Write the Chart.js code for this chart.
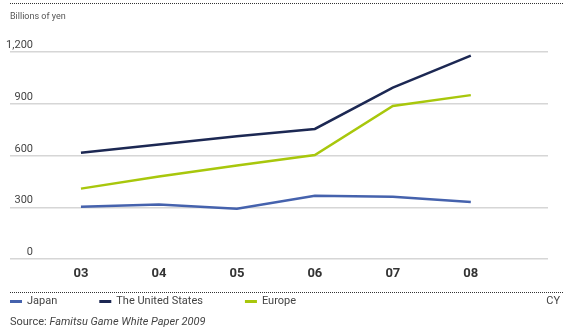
<!DOCTYPE html>
<html>
<head>
<meta charset="utf-8">
<script src="https://cdn.jsdelivr.net/npm/chart.js@4/dist/chart.umd.min.js"></script>
<style>
  html, body { margin: 0; padding: 0; background: #fff; }
  #wrap { width: 563px; height: 330px; }
</style>
</head>
<body>
<div id="wrap"><canvas id="salesChart" width="563" height="330"></canvas></div>
<script>
const FONT = "'Liberation Sans Narrow', 'Roboto', sans-serif";

const years = [3, 4, 5, 6, 7, 8];
const yearLabels = ['03', '04', '05', '06', '07', '08'];
const japan = [303, 316, 291, 366, 361, 330];
const unitedStates = [616, 664, 711, 754, 993, 1179];
const europe = [408, 478, 542, 603, 887, 950];
const yTicks = [0, 300, 600, 900, 1200];

function points(values) {
    return values.map((v, i) => ({ x: years[i], y: v }));
}

// extra text, legend and dotted rules drawn around the plot
const decorations = {
    id: 'decorations',
    afterDraw(chart) {
        const ctx = chart.ctx;
        const yScale = chart.scales.y;
        ctx.save();

        // dotted rules
        ctx.fillStyle = '#333';
        for (let x = 10; x < 563; x += 2) {
            ctx.fillRect(x, 3, 1, 1);
            ctx.fillRect(x, 292, 1, 1);
        }

        ctx.fillStyle = '#555';
        ctx.font = '9px ' + FONT;
        ctx.textAlign = 'left';
        ctx.textBaseline = 'middle';
        ctx.fillText('Billions of yen', 10, 17);

        // y tick labels sit above their grid lines
        ctx.font = '11px ' + FONT;
        ctx.fillStyle = '#444';
        ctx.textAlign = 'right';
        ctx.textBaseline = 'alphabetic';
        yScale.ticks.forEach(t => {
            const py = yScale.getPixelForValue(t.value);
            ctx.fillText(t.value.toLocaleString('en-US'), 33, py - 4);
        });

        // legend
        ctx.font = '11px ' + FONT;
        ctx.textAlign = 'left';
        ctx.textBaseline = 'middle';
        let lx = 10;
        chart.data.datasets.forEach(ds => {
            ctx.fillStyle = ds.borderColor;
            ctx.fillRect(lx, 300, 12, 3);
            ctx.fillStyle = '#444';
            ctx.fillText(ds.label, lx + 17, 301.5);
            lx += 17 + ctx.measureText(ds.label).width + 42;
        });
        ctx.textAlign = 'right';
        ctx.fillText('CY', 560, 301.5);

        // source line
        ctx.textAlign = 'left';
        ctx.fillStyle = '#444';
        ctx.fillText('Source: ', 10, 322);
        const w = ctx.measureText('Source: ').width;
        ctx.font = 'italic 11px ' + FONT;
        ctx.fillText('Famitsu Game White Paper 2009', 10 + w, 322);
        ctx.restore();
    }
};

new Chart(document.getElementById('salesChart'), {
    type: 'line',
    data: {
        datasets: [
            { label: 'Japan', data: points(japan), borderColor: '#4562ad' },
            { label: 'The United States', data: points(unitedStates), borderColor: '#1c2853' },
            { label: 'Europe', data: points(europe), borderColor: '#a8c70c' }
        ]
    },
    options: {
        responsive: false,
        animation: false,
        layout: { padding: { top: 52, left: 10, right: 15, bottom: 0 } },
        elements: {
            line: { borderWidth: 2.5, tension: 0, fill: false },
            point: { radius: 0 }
        },
        plugins: {
            legend: { display: false },
            tooltip: { enabled: false }
        },
        scales: {
            x: {
                type: 'linear',
                min: 2.09,
                max: 8.99,
                afterBuildTicks(scale) {
                    scale.ticks = years.map(v => ({ value: v }));
                },
                afterFit(scale) { scale.height = 71; },
                grid: { display: false },
                border: { display: false },
                ticks: {
                    padding: -1,
                    color: '#333',
                    font: { family: FONT, size: 13, weight: 'bold' },
                    callback: v => yearLabels[years.indexOf(v)]
                }
            },
            y: {
                min: 0,
                max: 1200,
                afterBuildTicks(scale) {
                    scale.ticks = yTicks.map(v => ({ value: v }));
                },
                afterFit(scale) { scale.width = 0; },
                grid: { color: '#d6d6d6', lineWidth: 1.5, drawTicks: false },
                border: { display: false },
                ticks: { display: false }
            }
        }
    },
    plugins: [decorations]
});
</script>
</body>
</html>
